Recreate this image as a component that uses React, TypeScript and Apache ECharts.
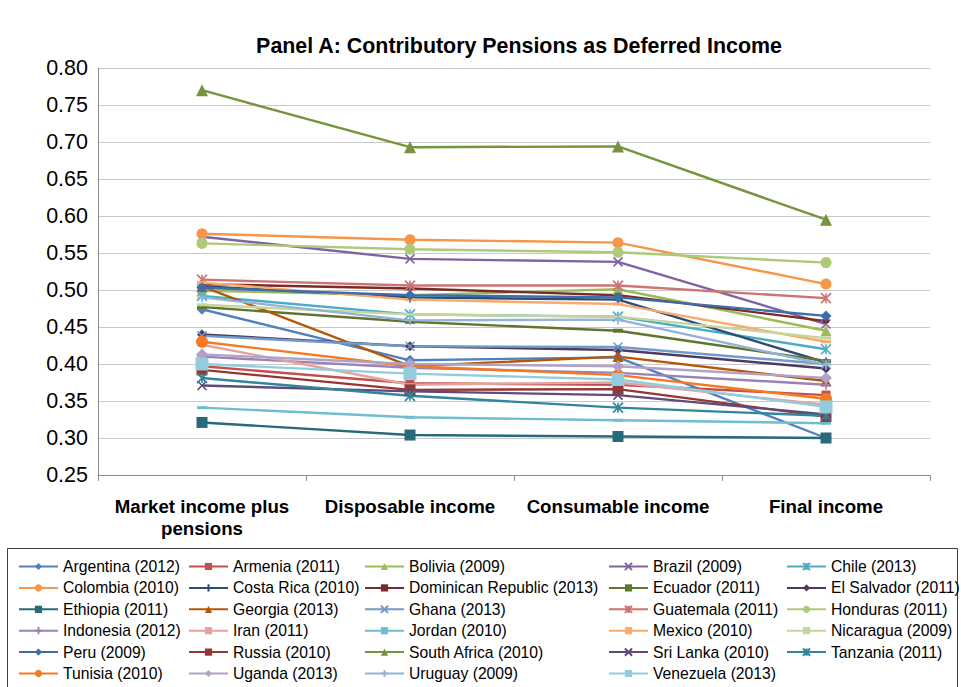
import React, { useEffect, useRef } from "react";
import * as echarts from "echarts";

const categories = ["Market income plus\npensions", "Disposable income", "Consumable income", "Final income"];
const yTicks = { min: 0.25, max: 0.8, interval: 0.05 };

const argentina = [0.474, 0.405, 0.409, 0.3];
const armenia = [0.397, 0.374, 0.372, 0.358];
const bolivia = [0.499, 0.493, 0.501, 0.445];
const brazil = [0.572, 0.542, 0.538, 0.454];
const chile = [0.492, 0.467, 0.464, 0.42];
const colombia = [0.576, 0.568, 0.564, 0.508];
const costaRica = [0.505, 0.49, 0.487, 0.402];
const dominicanRepublic = [0.508, 0.502, 0.493, 0.458];
const ecuador = [0.477, 0.457, 0.445, 0.404];
const elSalvador = [0.44, 0.424, 0.419, 0.394];
const ethiopia = [0.321, 0.304, 0.302, 0.3];
const georgia = [0.505, 0.397, 0.41, 0.377];
const ghana = [0.438, 0.424, 0.423, 0.4];
const guatemala = [0.514, 0.506, 0.506, 0.489];
const honduras = [0.563, 0.555, 0.551, 0.537];
const indonesia = [0.41, 0.395, 0.388, 0.372];
const iran = [0.426, 0.372, 0.375, 0.345];
const jordan = [0.341, 0.328, 0.324, 0.32];
const mexico = [0.51, 0.487, 0.481, 0.43];
const nicaragua = [0.48, 0.467, 0.464, 0.435];
const peru = [0.503, 0.493, 0.49, 0.465];
const russia = [0.392, 0.365, 0.366, 0.329];
const southAfrica = [0.77, 0.693, 0.694, 0.595];
const sriLanka = [0.371, 0.363, 0.358, 0.332];
const tanzania = [0.381, 0.357, 0.341, 0.33];
const tunisia = [0.43, 0.397, 0.385, 0.353];
const uganda = [0.413, 0.4, 0.397, 0.381];
const uruguay = [0.49, 0.459, 0.46, 0.399];
const venezuela = [0.4, 0.387, 0.379, 0.342];

const X = "path://M0,0L10,10M10,0L0,10";
const STAR = "path://M0,0L10,10M10,0L0,10M5,0L5,10";
const PLUS = "path://M5,0L5,10M0,5L10,5";

type S = { name: string; data: number[]; color: string; symbol: string; size: any; stroke?: boolean };

const seriesDefs: S[] = [
  { name: "Argentina (2012)", data: argentina, color: "#4F81BD", symbol: "diamond", size: 11 },
  { name: "Armenia (2011)", data: armenia, color: "#C0504D", symbol: "rect", size: 9 },
  { name: "Bolivia (2009)", data: bolivia, color: "#9BBB59", symbol: "triangle", size: 11 },
  { name: "Brazil (2009)", data: brazil, color: "#8064A2", symbol: X, size: 9, stroke: true },
  { name: "Chile (2013)", data: chile, color: "#4BACC6", symbol: STAR, size: 10, stroke: true },
  { name: "Colombia (2010)", data: colombia, color: "#F79646", symbol: "circle", size: 11 },
  { name: "Costa Rica (2010)", data: costaRica, color: "#2C4D75", symbol: PLUS, size: 10, stroke: true },
  { name: "Dominican Republic (2013)", data: dominicanRepublic, color: "#772C2A", symbol: "rect", size: [6, 4] },
  { name: "Ecuador (2011)", data: ecuador, color: "#5F7530", symbol: "rect", size: [10, 4] },
  { name: "El Salvador (2011)", data: elSalvador, color: "#4D3B62", symbol: "diamond", size: 10 },
  { name: "Ethiopia (2011)", data: ethiopia, color: "#276A7C", symbol: "rect", size: 11 },
  { name: "Georgia (2013)", data: georgia, color: "#B65708", symbol: "triangle", size: 11 },
  { name: "Ghana (2013)", data: ghana, color: "#729ACA", symbol: X, size: 9, stroke: true },
  { name: "Guatemala (2011)", data: guatemala, color: "#CD7371", symbol: STAR, size: 10, stroke: true },
  { name: "Honduras (2011)", data: honduras, color: "#AFC97A", symbol: "circle", size: 11 },
  { name: "Indonesia (2012)", data: indonesia, color: "#9983B5", symbol: PLUS, size: 10, stroke: true },
  { name: "Iran (2011)", data: iran, color: "#E6A2A1", symbol: "rect", size: [10, 3] },
  { name: "Jordan (2010)", data: jordan, color: "#6FBDD1", symbol: "rect", size: [10, 3] },
  { name: "Mexico (2010)", data: mexico, color: "#F9AB6B", symbol: "rect", size: [10, 3] },
  { name: "Nicaragua (2009)", data: nicaragua, color: "#C3D69B", symbol: "rect", size: [10, 3] },
  { name: "Peru (2009)", data: peru, color: "#3F6DAA", symbol: "diamond", size: 11 },
  { name: "Russia (2010)", data: russia, color: "#963634", symbol: "rect", size: 11 },
  { name: "South Africa (2010)", data: southAfrica, color: "#77933C", symbol: "triangle", size: 12 },
  { name: "Sri Lanka (2010)", data: sriLanka, color: "#604A7B", symbol: X, size: 9, stroke: true },
  { name: "Tanzania (2011)", data: tanzania, color: "#31859C", symbol: STAR, size: 10, stroke: true },
  { name: "Tunisia (2010)", data: tunisia, color: "#F5791F", symbol: "circle", size: 12 },
  { name: "Uganda (2013)", data: uganda, color: "#B3A2C7", symbol: "diamond", size: 12 },
  { name: "Uruguay (2009)", data: uruguay, color: "#95B3D7", symbol: PLUS, size: 10, stroke: true },
  { name: "Venezuela (2013)", data: venezuela, color: "#93CDDD", symbol: "rect", size: 13 },
];

const legendColumns = [
  { left: 18, names: [0, 5, 10, 15, 20, 25] },
  { left: 188, names: [1, 6, 11, 16, 21, 26] },
  { left: 364, names: [2, 7, 12, 17, 22, 27] },
  { left: 608, names: [3, 8, 13, 18, 23, 28] },
  { left: 786, names: [4, 9, 14, 19, 24] },
];

const FONT = "Liberation Sans, Arial, sans-serif";

export default function App() {
  const ref = useRef<HTMLDivElement>(null);
  useEffect(() => {
    if (!ref.current) return;
    const chart = echarts.init(ref.current, undefined, { renderer: "svg" });
    const option: any = {
      animation: false,
      backgroundColor: "#fff",
      textStyle: { fontFamily: FONT },
      title: {
        text: "Panel A: Contributory Pensions as Deferred Income",
        left: 514,
        textAlign: "center",
        top: 30,
        textStyle: { fontSize: 21.4, fontWeight: "bold", color: "#000", fontFamily: FONT },
      },
      grid: { left: 98, right: 31, top: 68, bottom: 212, containLabel: false },
      xAxis: {
        type: "category",
        data: categories,
        boundaryGap: true,
        axisLine: { show: true, lineStyle: { color: "#8C8C8C", width: 1 } },
        axisTick: { show: true, length: 6, lineStyle: { color: "#8C8C8C" } },
        axisLabel: {
          interval: 0,
          margin: 20,
          fontSize: 18.7,
          fontWeight: "bold",
          color: "#000",
          lineHeight: 22,
          fontFamily: FONT,
        },
        splitLine: { show: false },
      },
      yAxis: {
        type: "value",
        min: yTicks.min,
        max: yTicks.max,
        interval: yTicks.interval,
        axisLine: { show: true, lineStyle: { color: "#8C8C8C", width: 1 } },
        axisTick: { show: false },
        axisLabel: {
          margin: 10,
          fontSize: 21.5,
          color: "#000",
          fontFamily: FONT,
          formatter: (v: number) => v.toFixed(2),
        },
        splitLine: { show: true, lineStyle: { color: "#C8C8C8", width: 1 } },
      },
      legend: legendColumns.map((col) => ({
        orient: "vertical",
        left: col.left,
        top: 558.5,
        height: 128,
        padding: 0,
        itemWidth: 39,
        itemHeight: 9,
        itemGap: 5.4,
        selectedMode: false,
        data: col.names.map((i) => seriesDefs[i].name),
        textStyle: { fontSize: 15.7, color: "#000", fontFamily: FONT },
      })),
      graphic: [
        {
          type: "rect",
          shape: { x: 7.5, y: 548.5, width: 950, height: 160 },
          style: { fill: "none", stroke: "#404040", lineWidth: 1 },
          silent: true,
          z: 0,
        },
      ],
      series: seriesDefs.map((s) => ({
        name: s.name,
        type: "line",
        data: s.data,
        symbol: s.symbol,
        symbolSize: s.size,
        showSymbol: true,
        lineStyle: { color: s.color, width: 2.4 },
        itemStyle: s.stroke
          ? { color: s.color, borderColor: s.color, borderWidth: 1.6 }
          : { color: s.color, borderWidth: 0 },
        emphasis: { disabled: true },
      })),
    };
    chart.setOption(option);
    return () => chart.dispose();
  }, []);
  return (
    <div
      ref={ref}
      style={{ position: "fixed", left: 0, top: 0, width: 961, height: 687, background: "#fff" }}
    />
  );
}
